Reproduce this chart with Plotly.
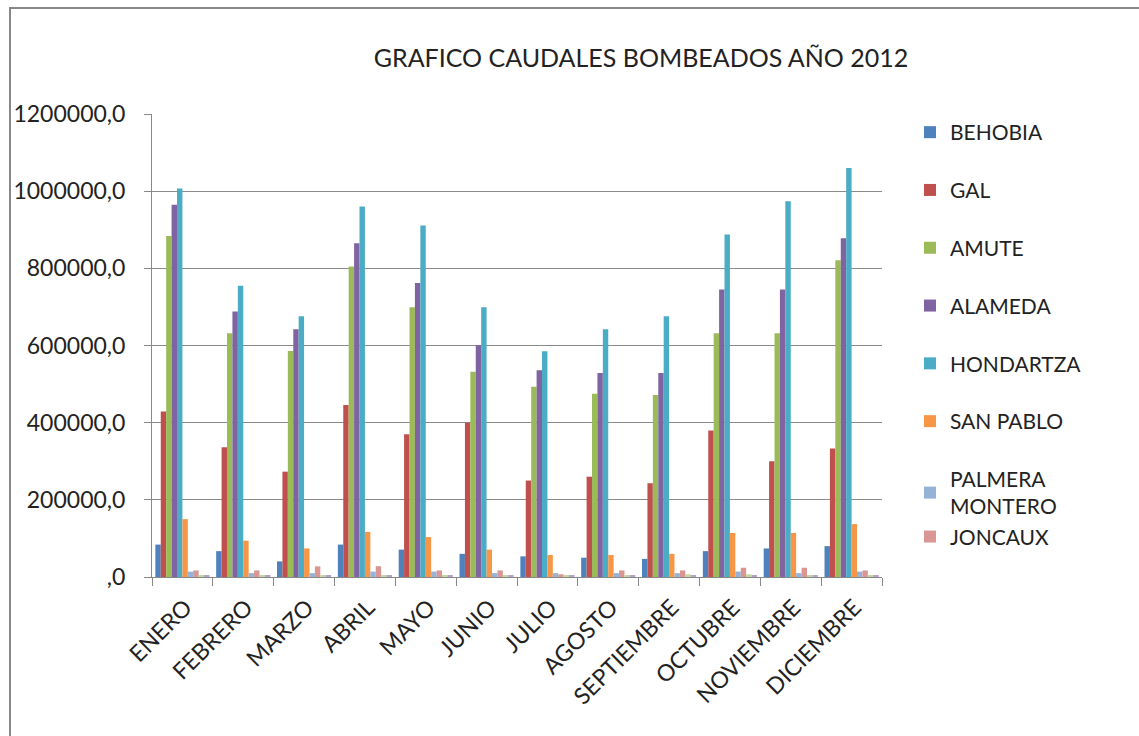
import plotly.graph_objects as go

months = ["ENERO", "FEBRERO", "MARZO", "ABRIL", "MAYO", "JUNIO", "JULIO",
          "AGOSTO", "SEPTIEMBRE", "OCTUBRE", "NOVIEMBRE", "DICIEMBRE"]

behobia   = [84000, 67000, 40500, 84000, 71000, 60000, 53500, 50000, 47000, 67000, 74000, 80000]
gal       = [429000, 336000, 273000, 446000, 370000, 400000, 250000, 260000, 243000, 380000, 300000, 333000]
amute     = [884000, 632000, 586000, 805000, 699000, 532000, 493000, 475000, 472000, 632000, 632000, 821000]
alameda   = [965000, 688000, 642000, 865000, 762000, 601000, 536000, 529000, 529000, 745000, 745000, 878000]
hondartza = [1007000, 755000, 676000, 960000, 911000, 699000, 585000, 642000, 676000, 888000, 974000, 1060000]
san_pablo = [150000, 94000, 74000, 117000, 103500, 71000, 57000, 57000, 60000, 114000, 114000, 137000]
palmera_montero = [13800, 10000, 10000, 14000, 14000, 10000, 10000, 10000, 10000, 14000, 10000, 14000]
joncaux   = [17000, 17000, 27600, 28000, 17000, 17000, 7000, 17000, 17000, 24000, 24000, 17000]
serie_9   = [3000, 3000, 3000, 3000, 3000, 3000, 3000, 5000, 7000, 7000, 3000, 3000]
serie_10  = [4000, 3000, 3000, 3000, 3000, 3000, 3000, 3000, 3000, 3000, 3000, 3000]

series = [
    ("BEHOBIA", behobia, "#4F81BD", True, "g0"),
    ("GAL", gal, "#C0504D", True, "g1"),
    ("AMUTE", amute, "#9BBB59", True, "g2"),
    ("ALAMEDA", alameda, "#8064A2", True, "g3"),
    ("HONDARTZA", hondartza, "#4BACC6", True, "g4"),
    ("SAN PABLO", san_pablo, "#F79646", True, "g5"),
    ("PALMERA<br>MONTERO", palmera_montero, "#95B3D7", True, "g6"),
    ("JONCAUX", joncaux, "#D99694", True, "g6"),
    ("SERIE 9", serie_9, "#C3D69B", False, "g8"),
    ("SERIE 10", serie_10, "#B3A2C7", False, "g9"),
]

ytickvals = [0, 200000, 400000, 600000, 800000, 1000000, 1200000]
yticktext = [",0", "200000,0", "400000,0", "600000,0", "800000,0", "1000000,0", "1200000,0"]

fig = go.Figure()
for name, vals, color, show, grp in series:
    fig.add_trace(go.Bar(
        x=months, y=vals, name=name, marker_color=color,
        marker_line_width=0, showlegend=show, legendgroup=grp,
    ))

W, H = 1139, 736
L, R, T, B = 152, 882, 114, 577
pw, ph = R - L, B - T

def px_x(p):
    return (p - L) / pw

def px_y(p):
    return (B - p) / ph

fig.update_layout(
    width=W, height=H,
    margin=dict(l=L, r=W - R, t=T, b=H - B, autoexpand=False),
    paper_bgcolor="white", plot_bgcolor="white",
    barmode="group", bargap=0.11, bargroupgap=0,
    font=dict(family="Lato, Open Sans, sans-serif", color="#222222"),
    title=dict(text="GRAFICO CAUDALES BOMBEADOS AÑO 2012",
               x=641 / W, xanchor="center", xref="container",
               y=1 - 58 / H, yanchor="middle", yref="container",
               font=dict(size=25, color="#222222")),
    legend=dict(x=px_x(910), xanchor="left", y=px_y(112), yanchor="top",
                font=dict(size=21, color="#222222"), tracegroupgap=27.5,
                itemwidth=30, bgcolor="rgba(0,0,0,0)", maxheight=720,
                groupclick="toggleitem"),
    xaxis=dict(type="category", showgrid=False, tickangle=-45, automargin=False,
               tickfont=dict(size=23, color="#222222"),
               ticklabelshift=3, ticklabelstandoff=7,
               ticks="outside", ticklen=8, tickcolor="#888888", tickson="boundaries",
               showline=True, linecolor="#888888", linewidth=1),
    yaxis=dict(range=[0, 1200000], tickvals=ytickvals, ticktext=yticktext,
               automargin=False, ticklabelstandoff=14,
               tickfont=dict(size=23, color="#222222"),
               showgrid=True, gridcolor="#8a8a8a", gridwidth=1,
               ticks="outside", ticklen=7, tickcolor="#888888",
               showline=True, linecolor="#888888", linewidth=1, zeroline=False),
    shapes=[dict(type="rect", xref="paper", yref="paper",
                 x0=px_x(10), x1=px_x(1160), y0=px_y(760), y1=px_y(8),
                 line=dict(color="#888888", width=2), fillcolor="rgba(0,0,0,0)",
                 layer="below")],
)

fig.write_html("out.html", config={"displayModeBar": False},
               post_script="document.body.style.margin='0';document.body.style.overflow='hidden';")
